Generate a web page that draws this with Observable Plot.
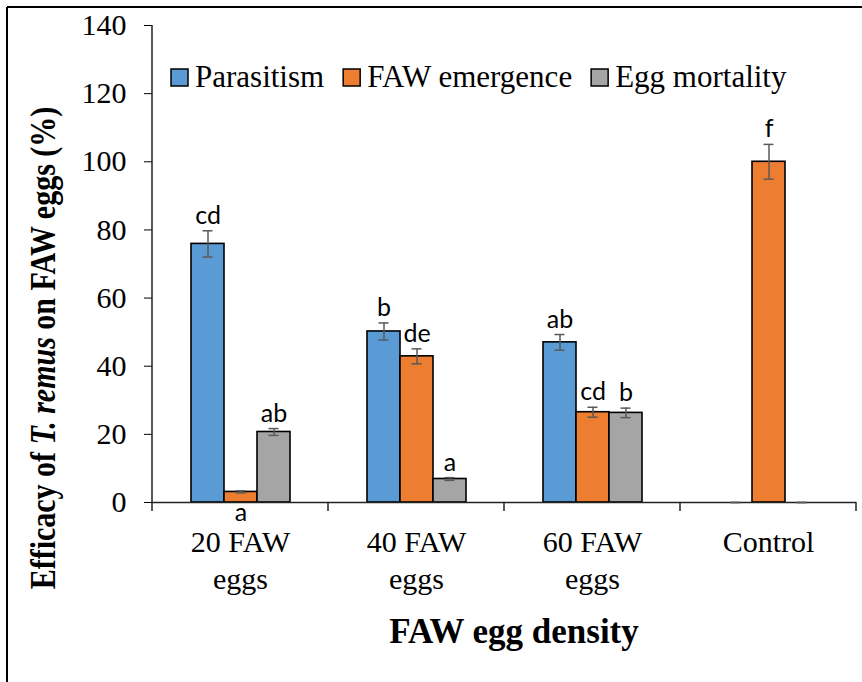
<!DOCTYPE html>
<html>
<head>
<meta charset="utf-8">
<script src="https://cdn.jsdelivr.net/npm/d3@7"></script>
<script src="https://cdn.jsdelivr.net/npm/@observablehq/plot@0.6"></script>
<style>
  html, body { margin: 0; padding: 0; background: white; }
  svg { display: block; }
</style>
</head>
<body>
<div id="chart"></div>
<script>
// ---- data ----
const categories = ["20 FAW eggs", "40 FAW eggs", "60 FAW eggs", "Control"];
const categoryLabels = ["20 FAW\neggs", "40 FAW\neggs", "60 FAW\neggs", "Control"];
const seriesNames = ["Parasitism", "FAW emergence", "Egg mortality"];
const parasitism = [75.9, 50.2, 47.0, 0];
const emergence = [3.1, 42.9, 26.5, 100.0];
const mortality = [20.7, 6.9, 26.3, 0];
const parasitismErr = [3.85, 2.5, 2.3, 0];
const emergenceErr = [0.3, 2.2, 1.45, 5.1];
const mortalityErr = [1.0, 0.4, 1.4, 0];
const parasitismLetters = ["cd", "b", "ab", ""];
const emergenceLetters = ["a", "de", "cd", "f"];
const mortalityLetters = ["ab", "a", "b", ""];
const yTicks = [0, 20, 40, 60, 80, 100, 120, 140];
const seriesColors = ["#5B9BD5", "#ED7D31", "#A5A5A5"];

const values = [parasitism, emergence, mortality];
const errs = [parasitismErr, emergenceErr, mortalityErr];
const letters = [parasitismLetters, emergenceLetters, mortalityLetters];

const rows = [];
categories.forEach((c, i) => {
  seriesNames.forEach((s, j) => {
    rows.push({cat: c, series: s, value: values[j][i], err: errs[j][i], letter: letters[j][i]});
  });
});
const catRows = categories.map((c, i) => ({cat: c, label: categoryLabels[i]}));

const serif = "Liberation Serif, Tinos, Times New Roman, Times, Nimbus Roman, DejaVu Serif, serif";
const errColor = "#595959";

const plot = Plot.plot({
  width: 862,
  height: 682,
  marginLeft: 150,
  marginRight: 5,
  marginTop: 25,
  marginBottom: 180,
  style: {fontFamily: serif, fontSize: "30px", color: "black", background: "white", overflow: "visible"},
  fx: {domain: categories, padding: 0, axis: null, label: null},
  x: {domain: seriesNames, paddingInner: 0, paddingOuter: 1.1, axis: null},
  y: {domain: [0, 140], ticks: yTicks, tickSize: 8, tickPadding: 18, label: null, tickFormat: d => String(d)},
  color: {domain: seriesNames, range: seriesColors},
  marks: [
    Plot.barY(rows, {fx: "cat", x: "series", y: "value", fill: "series", stroke: "black", strokeWidth: 1.6}),
    Plot.ruleY([0], {stroke: "#222", strokeWidth: 1.5}),
    Plot.ruleX(rows, {fx: "cat", x: "series", y1: d => d.value - d.err, y2: d => d.value + d.err, stroke: errColor, strokeWidth: 1.5}),
    Plot.tickY(rows, {fx: "cat", x: "series", y: d => d.value + d.err, insetLeft: 11.5, insetRight: 11.5, stroke: errColor, strokeWidth: 1.5}),
    Plot.tickY(rows, {fx: "cat", x: "series", y: d => d.value - d.err, insetLeft: 11.5, insetRight: 11.5, stroke: errColor, strokeWidth: 1.5}),
    Plot.text(rows.filter(d => d.letter && d.value >= 5), {
      fx: "cat", x: "series", y: d => d.value + d.err, text: "letter",
      dy: -7, lineAnchor: "bottom", fontFamily: "Lato, 'Open Sans', sans-serif", fontSize: 25, fill: "black"
    }),
    Plot.text(rows.filter(d => d.letter && d.value < 5), {
      fx: "cat", x: "series", y: 0, text: "letter",
      dy: 18, lineAnchor: "bottom", fontFamily: "Lato, 'Open Sans', sans-serif", fontSize: 25, fill: "black"
    }),
    Plot.text(catRows, {
      fx: "cat", frameAnchor: "bottom", text: "label", lineAnchor: "top",
      dy: 23, lineHeight: 1.23, fontSize: 30, fill: "black", fontFamily: serif
    })
  ]
});

document.getElementById("chart").appendChild(plot);

// ---- extra decorations using Plot's scales ----
const svg = d3.select(plot);
const fx = plot.scale("fx");
const ys = plot.scale("y");
const xStart = fx.apply(categories[0]);
const xEnd = fx.apply(categories[categories.length - 1]) + fx.bandwidth;
const y0 = ys.apply(0);
const yTop = ys.apply(yTicks[yTicks.length - 1]);

const deco = svg.append("g").attr("text-anchor", "start");
// y axis line
deco.append("line").attr("x1", xStart).attr("x2", xStart).attr("y1", y0).attr("y2", yTop)
  .attr("stroke", "#222").attr("stroke-width", 1.5);
// category boundary ticks
const bounds = categories.map(c => fx.apply(c)).concat([xEnd]);
bounds.forEach(bx => {
  deco.append("line").attr("x1", bx).attr("x2", bx).attr("y1", y0).attr("y2", y0 + 9)
    .attr("stroke", "#222").attr("stroke-width", 1.5);
});

// border (figure frame)
deco.append("line").attr("x1", 7).attr("x2", 862).attr("y1", 7).attr("y2", 7).attr("stroke", "black").attr("stroke-width", 2);
deco.append("line").attr("x1", 7).attr("x2", 7).attr("y1", 7).attr("y2", 682).attr("stroke", "black").attr("stroke-width", 2);

// x axis title
deco.append("text").attr("x", 514).attr("y", 643).attr("text-anchor", "middle")
  .style("font-family", serif).attr("font-weight", "bold").attr("font-size", 35).attr("fill", "black")
  .text("FAW egg density");

// y axis title
const yt = deco.append("text").attr("transform", "translate(55,348) rotate(-90) scale(1,1.2)")
  .attr("text-anchor", "middle").style("font-family", serif).attr("font-weight", "bold")
  .attr("font-size", 30).attr("fill", "black");
yt.append("tspan").text("Efficacy of ");
yt.append("tspan").attr("font-style", "italic").text("T. remus");
yt.append("tspan").text(" on FAW eggs (%)");

// legend
const lg = deco.append("g").attr("text-anchor", "start");
let lx = 171;
seriesNames.forEach((s, j) => {
  lg.append("rect").attr("x", lx).attr("y", 69).attr("width", 17).attr("height", 17)
    .attr("fill", seriesColors[j]).attr("stroke", "black").attr("stroke-width", 1.5);
  const t = lg.append("text").attr("x", lx + 24).attr("y", 87).attr("text-anchor", "start")
    .style("font-family", serif).attr("font-size", 31).attr("fill", "black").text(s);
  lx = lx + 24 + t.node().getComputedTextLength() + 19;
});
</script>
</body>
</html>
